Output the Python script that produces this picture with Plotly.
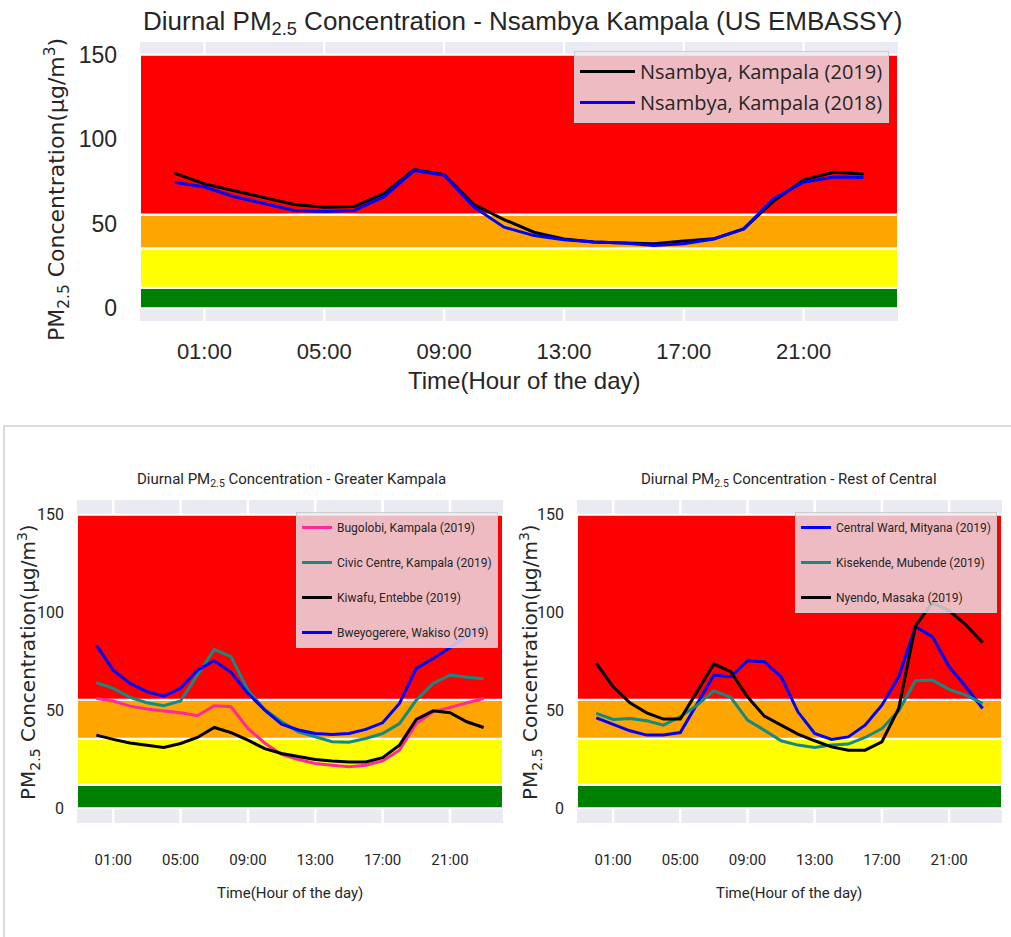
import plotly.graph_objects as go

# ---------------- data ----------------
hours = list(range(24))
tick_hours = [1, 5, 9, 13, 17, 21]
tick_labels = ["01:00", "05:00", "09:00", "13:00", "17:00", "21:00"]
y_ticks = [0, 50, 100, 150]

band_low = [0, 12.1, 35.5, 55.5]
band_high = [12.0, 35.4, 55.4, 150.0]

nsambya_2019 = [80.0, 73.6, 69.5, 65.5, 61.4, 59.8, 60.2, 68.0, 82.0, 79.0, 61.4, 52.5,
                45.0, 41.0, 39.2, 38.6, 38.2, 39.8, 41.1, 47.0, 63.4, 76.0, 80.5, 79.5]
nsambya_2018 = [74.6, 71.7, 66.0, 62.0, 57.9, 57.3, 57.9, 66.0, 81.5, 78.7, 59.8, 48.0,
                43.0, 40.5, 39.2, 38.6, 37.2, 38.2, 41.0, 47.0, 64.8, 74.6, 77.6, 77.3]

bugolobi = [56.1, 54.8, 52.2, 50.7, 49.7, 48.8, 47.3, 52.4, 51.9, 40.8, 33.4, 27.5,
            24.9, 22.9, 22.0, 21.2, 22.0, 24.2, 29.7, 43.3, 49.3, 51.5, 53.6, 56.1]
civic_centre = [64.2, 61.3, 56.7, 53.9, 52.4, 54.8, 68.1, 81.2, 77.5, 60.4, 50.5, 44.2,
                39.1, 36.5, 34.0, 33.8, 35.7, 38.2, 43.3, 55.3, 63.8, 68.1, 66.9, 66.2]
kiwafu = [37.4, 35.2, 33.4, 32.3, 31.1, 33.1, 36.2, 41.3, 38.7, 34.8, 30.5, 28.0,
          26.6, 24.9, 24.2, 23.7, 23.7, 25.9, 32.3, 45.4, 49.8, 48.8, 44.2, 41.3]
bweyogerere = [83.4, 70.6, 63.8, 59.6, 57.3, 61.3, 70.6, 75.4, 69.5, 58.7, 50.2, 43.0,
               40.0, 38.2, 37.7, 38.2, 40.3, 43.7, 53.6, 71.5, 76.5, 82.0, 88.0, 93.3]

central_ward = [46.2, 43.0, 39.6, 37.4, 37.4, 38.7, 53.6, 68.1, 67.2, 75.4, 74.9, 67.2,
                49.3, 38.2, 35.2, 36.5, 42.5, 52.7, 67.2, 92.8, 87.7, 72.4, 62.1, 51.0]
kisekende = [48.5, 45.4, 45.9, 44.7, 42.5, 46.8, 52.7, 60.1, 56.7, 45.1, 39.9, 34.5,
             32.3, 31.1, 32.3, 32.8, 36.2, 40.8, 49.8, 65.2, 65.5, 60.8, 57.8, 53.6]
nyendo = [74.1, 62.1, 53.9, 48.8, 45.6, 45.6, 59.6, 73.7, 69.8, 57.0, 47.1, 42.5,
          37.9, 34.5, 31.4, 29.7, 29.7, 34.0, 51.0, 93.2, 105.0, 101.0, 93.7, 84.6]

# ---------------- layout helpers ----------------
W, H = 1011, 937


def dx(a, b):
    return [a / W, b / W]


def dy(top, bottom):
    return [1 - bottom / H, 1 - top / H]


band_colors = ["#008000", "#ffff00", "#ffa500", "#ff0000"]
TXT = "#262626"
REG = "Liberation Sans, Arial, sans-serif"
COND = "Roboto, sans-serif"

fig = go.Figure()

panels = [
    ("x", "y", "legend", [("Nsambya, Kampala (2019)", nsambya_2019, "#000000"),
                          ("Nsambya, Kampala (2018)", nsambya_2018, "#0000ff")]),
    ("x2", "y2", "legend2", [("Bugolobi, Kampala (2019)", bugolobi, "#ff2a9a"),
                             ("Civic Centre, Kampala (2019)", civic_centre, "#138a82"),
                             ("Kiwafu, Entebbe (2019)", kiwafu, "#000000"),
                             ("Bweyogerere, Wakiso (2019)", bweyogerere, "#0000ff")]),
    ("x3", "y3", "legend3", [("Central Ward, Mityana (2019)", central_ward, "#0000ff"),
                             ("Kisekende, Mubende (2019)", kisekende, "#138a82"),
                             ("Nyendo, Masaka (2019)", nyendo, "#000000")]),
]

for xa, ya, lg, series in panels:
    for name, vals, col in series:
        fig.add_trace(go.Scatter(x=hours, y=vals, mode="lines", name=name,
                                 line=dict(color=col, width=3),
                                 xaxis=xa, yaxis=ya, legend=lg, legendgroup=name,
                                 hoverinfo="skip"))
    # white vertical grid lines (drawn beneath the AQI bands)
    for th in tick_hours:
        fig.add_shape(type="line", xref=xa, yref=f"{ya} domain", x0=th, x1=th, y0=0, y1=1,
                      line=dict(color="white", width=2.5), layer="below")
    # AQI bands
    for lo, hi, c in zip(band_low, band_high, band_colors):
        fig.add_shape(type="rect", xref=f"{xa} domain", yref=ya, x0=0, x1=1, y0=lo, y1=hi,
                      fillcolor=c, line=dict(color="white", width=2), layer="below")


def xax(domain, anchor, fsize, family, standoff):
    return dict(domain=domain, anchor=anchor, range=[-1.15, 24.15], tickmode="array",
                tickvals=tick_hours, ticktext=tick_labels, showgrid=False,
                zeroline=False, showline=False, ticks="",
                tickfont=dict(family=family, size=fsize, color=TXT),
                ticklabelstandoff=standoff, fixedrange=True)


def yax(domain, anchor, fsize, family, standoff):
    return dict(domain=domain, anchor=anchor, range=[-7.5, 157.5], tickmode="array",
                tickvals=y_ticks, showgrid=False, zeroline=False, showline=False, ticks="",
                tickfont=dict(family=family, size=fsize, color=TXT),
                ticklabelstandoff=standoff, fixedrange=True)


LEG_BG = "rgba(234,234,242,0.8)"
fig.update_layout(
    width=W, height=H, margin=dict(l=0, r=0, t=0, b=0),
    paper_bgcolor="white", plot_bgcolor="#eaeaf2", showlegend=True,
    xaxis=xax(dx(140, 898), "y", 22, REG, 15),
    yaxis=yax(dy(42, 321), "x", 23, REG, 22),
    xaxis2=xax(dx(77, 503), "y2", 15, COND, 26),
    yaxis2=yax(dy(500, 823), "x2", 16, COND, 12),
    xaxis3=xax(dx(577, 1002), "y3", 15, COND, 26),
    yaxis3=yax(dy(500, 823), "x3", 16, COND, 12),
    legend=dict(x=889 / W, xanchor="right", y=1 - 51 / H, yanchor="top",
                bgcolor=LEG_BG, bordercolor="#cccccc", borderwidth=1,
                font=dict(family="Open Sans, sans-serif", size=20, color=TXT),
                traceorder="grouped", tracegroupgap=2, itemwidth=55),
    legend2=dict(x=498 / W, xanchor="right", y=1 - 512 / H, yanchor="top",
                 bgcolor=LEG_BG, bordercolor="#cccccc", borderwidth=1,
                 font=dict(family=COND, size=12, color=TXT),
                 traceorder="grouped", tracegroupgap=16, itemwidth=30),
    legend3=dict(x=997 / W, xanchor="right", y=1 - 512 / H, yanchor="top",
                 bgcolor=LEG_BG, bordercolor="#cccccc", borderwidth=1,
                 font=dict(family=COND, size=12, color=TXT),
                 traceorder="grouped", tracegroupgap=16, itemwidth=30),
)

# frame around the lower pair of panels
fig.add_shape(type="rect", xref="paper", yref="paper", x0=4 / W, x1=1.01, y0=-0.01,
              y1=1 - 426 / H, line=dict(color="#cfcfcf", width=1.5),
              fillcolor="rgba(0,0,0,0)", layer="below")

YLAB = "PM<sub>2.5</sub> Concentration(μg/m<sup>3</sup>)"
XLAB = "Time(Hour of the day)"


def ann(text, x, y, size, family, angle=0):
    fig.add_annotation(text=text, x=x / W, y=1 - y / H, xref="paper", yref="paper",
                       showarrow=False, xanchor="center", yanchor="middle", textangle=angle,
                       font=dict(family=family, size=size, color=TXT))


ann("Diurnal PM<sub>2.5</sub> Concentration - Nsambya Kampala (US EMBASSY)", 522, 22, 26, REG)
ann(YLAB, 57, 190, 22, "DejaVu Sans", -90)
ann(XLAB, 524, 380, 24, REG)

ann("Diurnal PM<sub>2.5</sub> Concentration - Greater Kampala", 291, 480, 15, COND)
ann(YLAB, 28, 662, 20, "DejaVu Sans", -90)
ann(XLAB, 290, 893, 15, COND)

ann("Diurnal PM<sub>2.5</sub> Concentration - Rest of Central", 789, 480, 15, COND)
ann(YLAB, 530, 662, 20, "DejaVu Sans", -90)
ann(XLAB, 789, 893, 15, COND)

fig.write_html("out.html", config={"displayModeBar": False},
               post_script="document.body.style.margin='0';")
